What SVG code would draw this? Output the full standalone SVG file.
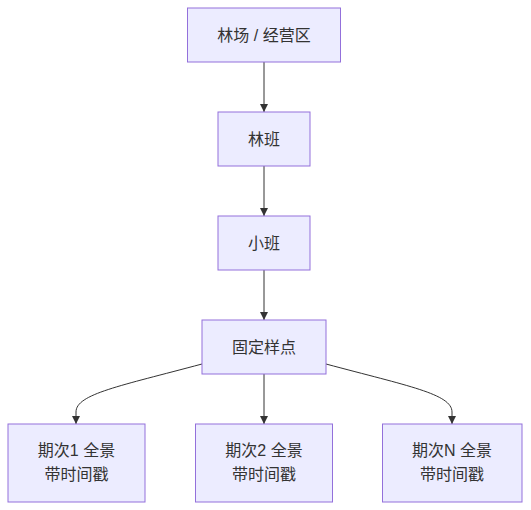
<svg xmlns="http://www.w3.org/2000/svg" width="531" height="510" viewBox="0 0 531 510">
<style>
.node rect{fill:#ECECFF;stroke:#9370DB;stroke-width:1}
.node text{font-family:"Liberation Sans","Noto Sans CJK SC",sans-serif;font-size:16px;fill:#333;text-anchor:middle}
.edge{fill:none;stroke:#333;stroke-width:1}
</style>
<defs>
<marker id="arr" viewBox="0 0 10 10" refX="10" refY="5" markerWidth="8" markerHeight="8" markerUnits="userSpaceOnUse" orient="auto">
<path d="M0,0 L10,5 L0,10 z" fill="#333"/>
</marker>
</defs>
<rect width="531" height="510" fill="#fff"/>
<g id="edges">
<path class="edge" d="M264,62 L264,112" marker-end="url(#arr)"/>
<path class="edge" d="M264,166 L264,216" marker-end="url(#arr)"/>
<path class="edge" d="M264,270 L264,320" marker-end="url(#arr)"/>
<path class="edge" d="M264,374 L264,424" marker-end="url(#arr)"/>
<path class="edge" d="M202,364 C120,386 76,394 76,412 L76,424" marker-end="url(#arr)"/>
<path class="edge" d="M326,364 C408,386 452,394 452,412 L452,424" marker-end="url(#arr)"/>
</g>
<g id="n1" class="node"><rect x="187.5" y="8" width="153" height="54"/><text x="264" y="40.5">林场 / 经营区</text></g>
<g id="n2" class="node"><rect x="218" y="112" width="92" height="54"/><text x="264" y="144.5">林班</text></g>
<g id="n3" class="node"><rect x="218" y="216" width="92" height="54"/><text x="264" y="248.5">小班</text></g>
<g id="n4" class="node"><rect x="202" y="320" width="124" height="54"/><text x="264" y="352.5">固定样点</text></g>
<g id="n5" class="node"><rect x="8" y="424" width="137" height="78"/><text x="76.5" y="456">期次1 全景</text><text x="76.5" y="480">带时间戳</text></g>
<g id="n6" class="node"><rect x="195.5" y="424" width="137" height="78"/><text x="264" y="456">期次2 全景</text><text x="264" y="480">带时间戳</text></g>
<g id="n7" class="node"><rect x="382.5" y="424" width="139.5" height="78"/><text x="452" y="456">期次N 全景</text><text x="452" y="480">带时间戳</text></g>
</svg>
